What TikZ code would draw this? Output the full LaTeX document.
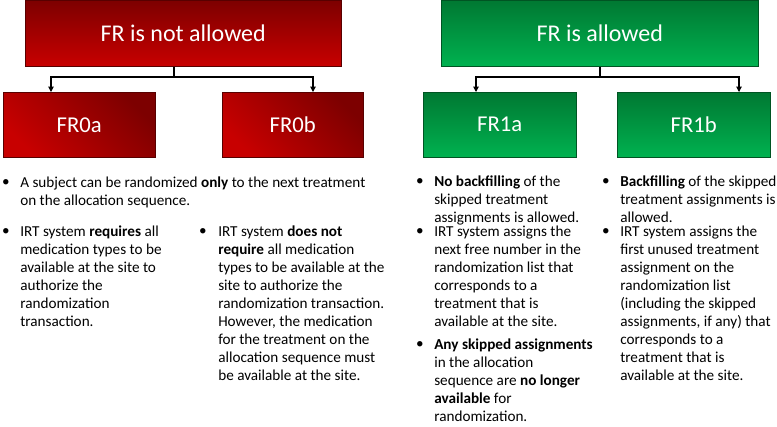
\documentclass[tikz,border=0pt]{standalone}
\usepackage{fontspec}
\setmainfont{Carlito}
\usepackage{tikz}
\usetikzlibrary{positioning, arrows.meta}
\definecolor{frRedDark}{RGB}{125, 0, 0}
\definecolor{frRed}{RGB}{200, 0, 0}
\definecolor{frGreenDark}{RGB}{0, 120, 50}
\definecolor{frGreen}{RGB}{0, 178, 80}
\tikzset{
    base/.style={
        font=\fontsize{18}{20}\selectfont,
        text=white,
        inner sep=0pt,
        anchor=north west
    },
    headred/.style={
        base,
        draw=frRedDark!70!black,
        top color=frRedDark,
        bottom color=frRed
    },
    subred/.style={
        base,
        font=\fontsize{17}{20}\selectfont,
        draw=frRedDark!70!black,
        top color=frRedDark,
        bottom color=frRed,
        shading angle=-45
    },
    headgreen/.style={
        base,
        draw=frGreenDark!70!black,
        top color=frGreenDark,
        bottom color=frGreen
    },
    subgreen/.style={
        base,
        font=\fontsize{17}{20}\selectfont,
        draw=frGreenDark!70!black,
        top color=frGreenDark,
        bottom color=frGreen
    },
    flow/.style={
        -{Triangle[length=4pt,width=4pt]},
        thick,
        color=black
    },
    dot/.style={
        font=\fontsize{11.4}{13.5}\selectfont,
        inner sep=0pt
    },
    note/.style={
        font=\fontsize{11.4}{13.5}\selectfont,
        anchor=north west,
        align=left,
        inner sep=0pt
    }
}
\begin{document}
\begin{tikzpicture}[x=0.75pt, y=-0.75pt]
    \useasboundingbox (0,0) rectangle (777,426);

    % Boxes
    \node[headred, minimum width=316*0.75pt, minimum height=66*0.75pt] (notall) at (25,0) {FR is not allowed};
    \node[subred, minimum width=152*0.75pt, minimum height=65*0.75pt] (fr0a) at (3,92) {FR0a};
    \node[subred, minimum width=141*0.75pt, minimum height=65*0.75pt] (fr0b) at (222,92) {FR0b};
    \node[headgreen, minimum width=317*0.75pt, minimum height=66*0.75pt] (allow) at (441,0) {FR is allowed};
    \node[subgreen, minimum width=153*0.75pt, minimum height=65*0.75pt] (fr1a) at (423,92) {FR1a};
    \node[subgreen, minimum width=153*0.75pt, minimum height=65*0.75pt] (fr1b) at (617,92) {FR1b};

    % Connectors
    \coordinate (jred) at (174,77);
    \coordinate (jgreen) at (600,77);
    \draw[thick] (notall.south -| jred) -- (jred);
    \draw[flow] (jred) -| (fr0a.north -| 51,0);
    \draw[flow] (jred) -| (fr0b.north -| 313,0);
    \draw[thick] (allow.south -| jgreen) -- (jgreen);
    \draw[flow] (jgreen) -| (fr1a.north -| 476,0);
    \draw[flow] (jgreen) -| (fr1b.north -| 739,0);

    % Notes FR0
    \node[dot] (d1) at (6,183) {•};
    \node[note] (t1) at (20,177) {A subject can be randomized \textbf{only} to the next treatment\\on the allocation sequence.};
    \node[dot] (d2) at (6,232) {•};
    \node[note] (t2) at (20,226) {IRT system \textbf{requires} all\\medication types to be\\available at the site to\\authorize the\\randomization\\transaction.};
    \node[dot] (d3) at (203,232) {•};
    \node[note] (t3) at (218,226) {IRT system \textbf{does not}\\\textbf{require} all medication\\types to be available at the\\site to authorize the\\randomization transaction.\\However, the medication\\for the treatment on the\\allocation sequence must\\be available at the site.};

    % Notes FR1a
    \node[dot] (d4) at (420,182) {•};
    \node[note] (t4) at (434,176) {\textbf{No backfilling} of the\\skipped treatment\\assignments is allowed.};
    \node[dot] (d5) at (420,232) {•};
    \node[note] (t5) at (434,226) {IRT system assigns the\\next free number in the\\randomization list that\\corresponds to a\\treatment that is\\available at the site.};
    \node[dot] (d6) at (420,345) {•};
    \node[note] (t6) at (434,339) {\textbf{Any skipped assignments}\\in the allocation\\sequence are \textbf{no longer}\\\textbf{available} for\\randomization.};

    % Notes FR1b
    \node[dot] (d7) at (606,182) {•};
    \node[note] (t7) at (620,176) {\textbf{Backfilling} of the skipped\\treatment assignments is\\allowed.};
    \node[dot] (d8) at (606,232) {•};
    \node[note] (t8) at (620,226) {IRT system assigns the\\first unused treatment\\assignment on the\\randomization list\\(including the skipped\\assignments, if any) that\\corresponds to a\\treatment that is\\available at the site.};
\end{tikzpicture}
\end{document}
